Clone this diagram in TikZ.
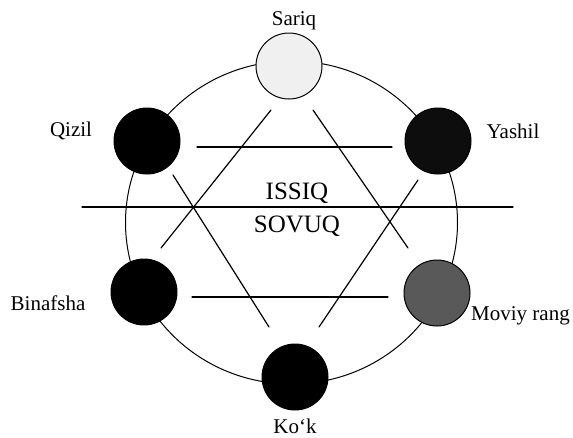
\documentclass[tikz,border=0pt]{standalone}
\usepackage{fontspec}
\setmainfont{Liberation Serif}
\begin{document}
\begin{tikzpicture}[x=1pt,y=-1pt,
  ball/.style={circle,draw=black,line width=1pt,minimum size=66pt,inner sep=0pt},
  lbl/.style={font=\fontsize{21}{24}\selectfont,inner sep=0pt},
  big/.style={font=\fontsize{25}{28}\selectfont,inner sep=0pt},
  ln/.style={line width=1.2pt,line cap=round}]
\useasboundingbox (0,0) rectangle (573,437);
% outer ring
\draw[line width=1pt] (291.5,222.5) ellipse [x radius=166, y radius=161.5];
% colour balls
\node[ball,fill=black!6] (sariq) at (289,66) {};
\node[ball,fill=black] (qizil) at (147,141) {};
\node[ball,fill=black!95] (yashil) at (438,141) {};
\node[ball,fill=black] (binafsha) at (144,292) {};
\node[ball,fill=black!65] (moviy) at (437,293) {};
\node[ball,fill=black] (kok) at (295,377) {};
% labels
\node[lbl] (tS) at (294,21) {Sariq};
\node[lbl] (tQ) at (71,131) {Qizil};
\node[lbl] (tY) at (513,131) {Yashil};
\node[lbl] (tB) at (48,303) {Binafsha};
\node[lbl,anchor=west] (tM) at (471,316) {Moviy rang};
\node[lbl] (tK) at (295,426) {Ko‘k};
\node[big] (issiq) at (297,193) {ISSIQ};
\node[big] (sovuq) at (297,226) {SOVUQ};
% segment end points
\coordinate (h1a) at (82,207);   \coordinate (h1b) at (513,207);
\coordinate (h2a) at (197,147);  \coordinate (h2b) at (392,147);
\coordinate (h3a) at (192,297);  \coordinate (h3b) at (388,297);
\coordinate (sla) at (271,110);  \coordinate (slb) at (161,248);
\coordinate (sra) at (313,110);  \coordinate (srb) at (408,248);
\coordinate (qa) at (173,175);   \coordinate (qb) at (269,327);
\coordinate (ya) at (418,180);   \coordinate (yb) at (319,327);
% lines
\draw[ln] (h1a) -- (h1b);
\draw[ln] (h2a) -- (h2b);
\draw[ln] (h3a) -- (h3b);
\draw[ln] (sla) -- (slb);
\draw[ln] (sra) -- (srb);
\draw[ln] (qa) -- (qb);
\draw[ln] (ya) -- (yb);
\end{tikzpicture}
\end{document}
